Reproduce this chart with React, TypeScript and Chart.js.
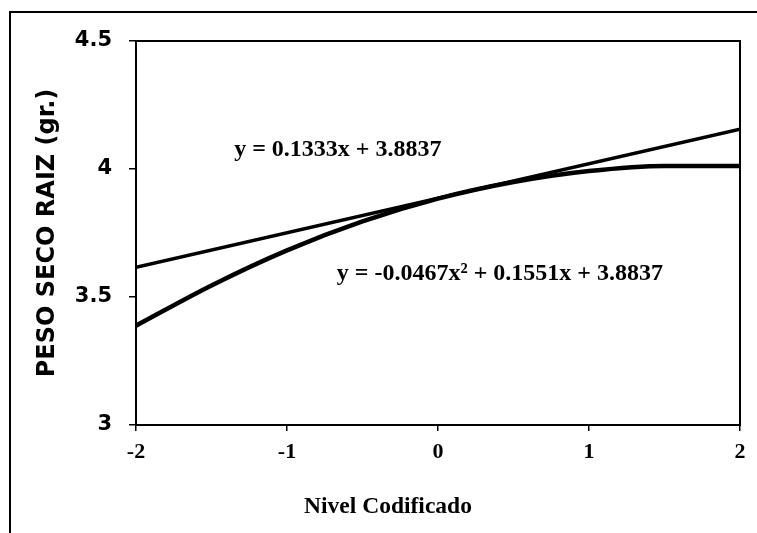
import React, { useEffect, useRef } from "react";
import { Chart, registerables } from "chart.js";

Chart.register(...registerables);

// Data
const xLinear = [-2, 2];
const yLinear = [3.616, 4.155];
const xQuad = [-2, -1.5, -1, -0.5, 0, 0.5, 1, 1.5, 2];
const yQuad = [3.388, 3.545, 3.682, 3.795, 3.884, 3.949, 3.992, 4.012, 4.012];
const yTicksMin = 3;
const yTicksMax = 4.5;
const yStep = 0.5;
const xTicksMin = -2;
const xTicksMax = 2;
const xStep = 1;
const xTitle = "Nivel Codificado";
const yTitle = "PESO SECO RAIZ (gr.)";
const eqLinear = "y = 0.1333x + 3.8837";
const eqQuad = "y = -0.0467x² + 0.1551x + 3.8837";

const SERIF = "'Liberation Serif', 'Times New Roman', serif";
const SANS = "'DejaVu Sans', sans-serif";

const framePlugin = {
  id: "frame",
  afterDraw(chart: any) {
    const { ctx, chartArea } = chart;
    const xs = chart.scales.x;
    const ys = chart.scales.y;
    ctx.save();
    ctx.strokeStyle = "#000";
    // outer frame (left & top edges)
    ctx.lineWidth = 2;
    ctx.beginPath();
    ctx.moveTo(10, 533);
    ctx.lineTo(10, 12);
    ctx.lineTo(757, 12);
    ctx.stroke();
    // plot box
    ctx.lineWidth = 2;
    ctx.strokeRect(chartArea.left, chartArea.top, chartArea.right - chartArea.left, chartArea.bottom - chartArea.top);
    // equations
    ctx.fillStyle = "#000";
    ctx.textBaseline = "middle";
    ctx.textAlign = "left";
    ctx.font = `bold 24px ${SERIF}`;
    ctx.fillText(eqLinear, xs.getPixelForValue(-1.35), ys.getPixelForValue(4.075));
    ctx.fillText(eqQuad, xs.getPixelForValue(-0.67), ys.getPixelForValue(3.59));
    // x title
    ctx.textAlign = "center";
    ctx.font = `bold 23.5px ${SERIF}`;
    ctx.fillText(xTitle, 388, 507);
    ctx.restore();
  },
};

export default function App() {
  const ref = useRef<HTMLCanvasElement | null>(null);
  useEffect(() => {
    if (!ref.current) return;
    const chart = new Chart(ref.current, {
      type: "line",
      data: {
        datasets: [
          {
            data: xLinear.map((x, i) => ({ x, y: yLinear[i] })),
            borderColor: "#000",
            borderWidth: 3.5,
            pointRadius: 0,
            tension: 0,
          },
          {
            data: xQuad.map((x, i) => ({ x, y: yQuad[i] })),
            borderColor: "#000",
            borderWidth: 4.5,
            pointRadius: 0,
            cubicInterpolationMode: "monotone",
          },
        ],
      },
      options: {
        responsive: false,
        animation: false,
        layout: { padding: { left: 0, top: 41, right: 17, bottom: 0 } },
        plugins: { legend: { display: false }, tooltip: { enabled: false } },
        scales: {
          x: {
            type: "linear",
            min: xTicksMin,
            max: xTicksMax,
            ticks: {
              stepSize: xStep,
              color: "#000",
              padding: 8,
              font: { family: SERIF, size: 22, weight: "bold" },
              maxRotation: 0,
              callback: (v: any) => String(v),
            },
            grid: { drawOnChartArea: false, color: "#000", lineWidth: 1.5, tickLength: 6 },
            border: { display: true, color: "#000", width: 2 },
            afterFit(scale: any) {
              scale.height = 108;
            },
          },
          y: {
            type: "linear",
            min: yTicksMin,
            max: yTicksMax,
            ticks: {
              stepSize: yStep,
              color: "#000",
              padding: 17,
              font: { family: SANS, size: 21, weight: "bold" },
              callback: (v: any) => String(v),
            },
            grid: { drawOnChartArea: false, color: "#000", lineWidth: 1.5, tickLength: 7 },
            border: { display: true, color: "#000", width: 2 },
            title: {
              display: true,
              text: yTitle,
              color: "#000",
              font: { family: SANS, size: 24, weight: "bold" },
              padding: { top: 33, bottom: 0 },
            },
            afterFit(scale: any) {
              scale.width = 136;
            },
          },
        },
      },
      plugins: [framePlugin],
    } as any);
    return () => chart.destroy();
  }, []);
  return (
    <div style={{ position: "absolute", left: 0, top: 0, width: 757, height: 533, background: "#fff" }}>
      <canvas ref={ref} width={757} height={533} style={{ display: "block" }} />
    </div>
  );
}
